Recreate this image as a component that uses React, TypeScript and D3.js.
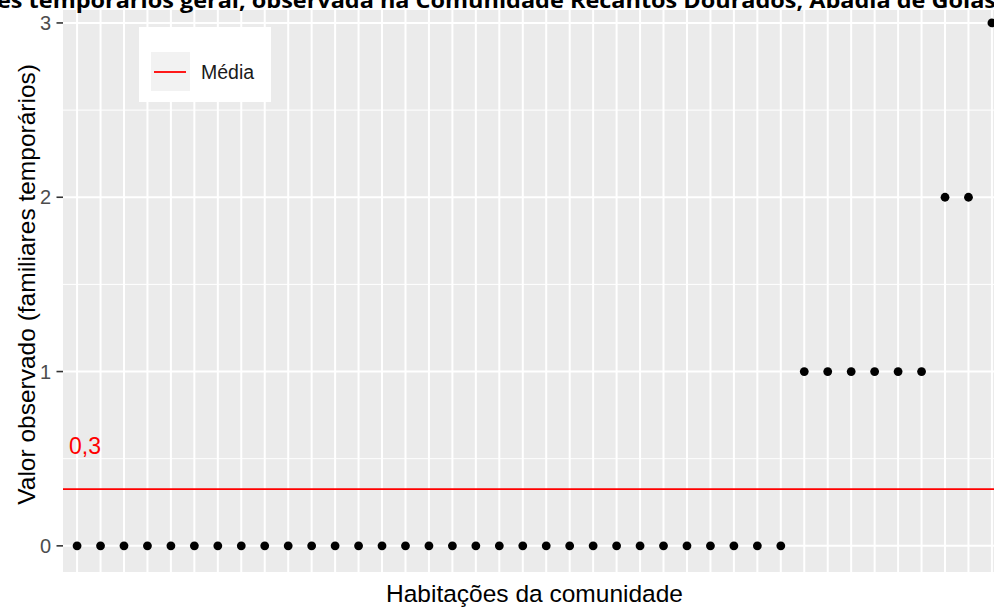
import React from "react";
import * as d3 from "d3";

const titleText = "es temporários geral, observada na Comunidade Recantos Dourados, Abadia de Goiás";
const yAxisTitle = "Valor observado (familiares temporários)";
const xAxisTitle = "Habitações da comunidade";
const legendLabel = "Média";

// observed values per dwelling (sorted)
const values: number[] = [
  0, 0, 0, 0, 0, 0, 0, 0, 0, 0,
  0, 0, 0, 0, 0, 0, 0, 0, 0, 0,
  0, 0, 0, 0, 0, 0, 0, 0, 0, 0,
  0, 1, 1, 1, 1, 1, 1, 2, 2, 3,
];
const houses: string[] = values.map((_, i) => `H${i + 1}`);
const yTicks: number[] = [0, 1, 2, 3];
const yMinor: number[] = [0.5, 1.5, 2.5];

export default function App() {
  const W = 994;
  const H = 608;
  const panel = { left: 63, right: 1006, top: 10, bottom: 572 };

  const x = d3
    .scalePoint<string>()
    .domain(houses)
    .range([panel.left, panel.right])
    .padding(0.6);

  const y = d3.scaleLinear().domain([-0.15, 3.15]).range([panel.bottom, -3.2]);

  const mean = d3.mean(values) as number;
  const meanLabel = d3.format(".1f")(mean).replace(".", ",");

  const font = "'Liberation Sans', Arial, sans-serif";

  return (
    <svg
      width={W}
      height={H}
      style={{ position: "absolute", left: 0, top: 0, background: "#fff" }}
    >
      <defs>
        <clipPath id="clipPanel">
          <rect x={panel.left} y={panel.top} width={panel.right - panel.left} height={panel.bottom - panel.top} />
        </clipPath>
      </defs>
      <rect
        x={panel.left}
        y={panel.top}
        width={panel.right - panel.left}
        height={panel.bottom - panel.top}
        fill="#ebebeb"
      />
      <g clipPath="url(#clipPanel)">
        {yMinor.map((t) => (
          <line key={"mi" + t} x1={panel.left} x2={panel.right} y1={y(t)} y2={y(t)} stroke="#fff" strokeWidth={1} />
        ))}
        {yTicks.map((t) => (
          <line key={"ma" + t} x1={panel.left} x2={panel.right} y1={y(t)} y2={y(t)} stroke="#fff" strokeWidth={2} />
        ))}
        {houses.map((h) => (
          <line key={"v" + h} x1={x(h)} x2={x(h)} y1={panel.top} y2={panel.bottom} stroke="#fff" strokeWidth={2} />
        ))}
        <line x1={panel.left} x2={panel.right} y1={y(mean)} y2={y(mean)} stroke="#ff0000" strokeWidth={1.8} />
        {values.map((v, i) => (
          <circle key={"p" + i} cx={x(houses[i])} cy={y(v)} r={4.4} fill="#000" />
        ))}
        <text x={69} y={454} fontFamily={font} fontSize={23} fill="#ff0000">
          {meanLabel}
        </text>
      </g>

      {/* y axis ticks and labels */}
      {yTicks.map((t) => (
        <g key={"t" + t}>
          <line x1={56.5} x2={63} y1={y(t)} y2={y(t)} stroke="#333" strokeWidth={1.6} />
          <text
            x={51}
            y={y(t)}
            dy="0.35em"
            textAnchor="end"
            fontFamily={font}
            fontSize={20}
            fill="#4d4d4d"
          >
            {t}
          </text>
        </g>
      ))}

      {/* legend */}
      <rect x={139} y={27} width={132} height={75} fill="#fff" />
      <rect x={151} y={52} width={39} height={39} fill="#f2f2f2" />
      <line x1={154} x2={186} y1={72} y2={72} stroke="#ff0000" strokeWidth={1.8} />
      <text x={201} y={72} dy="0.35em" fontFamily={font} fontSize={19.5} fill="#1a1a1a">
        {legendLabel}
      </text>

      {/* axis titles */}
      <text
        x={(panel.left + panel.right) / 2}
        y={602}
        textAnchor="middle"
        fontFamily={font}
        fontSize={24.5}
        fill="#000"
      >
        {xAxisTitle}
      </text>
      <text
        transform={`translate(35, ${(panel.bottom + y(3.15)) / 2}) rotate(-90)`}
        textAnchor="middle"
        fontFamily={font}
        fontSize={24.5}
        fill="#000"
      >
        {yAxisTitle}
      </text>

      {/* title (cropped at top) */}
      <text
        x={-3}
        y={8}
        fontFamily="'Open Sans', 'Liberation Sans', sans-serif"
        fontWeight="bold"
        fontSize={22}
        fill="#000"
        textLength={999}
        lengthAdjust="spacingAndGlyphs"
      >
        {titleText}
      </text>
    </svg>
  );
}
